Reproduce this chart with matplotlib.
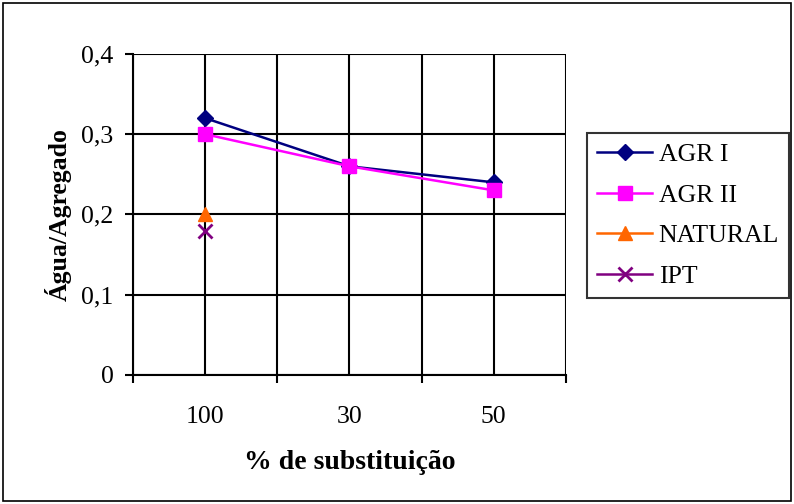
import matplotlib
matplotlib.use("Agg")
import matplotlib.pyplot as plt
from matplotlib.patches import Rectangle

categories = ["100", "30", "50"]
agr1 = [0.32, 0.26, 0.24]
agr2 = [0.30, 0.26, 0.23]
natural = [0.20, None, None]
ipt = [0.18, None, None]
yticks = [0, 0.1, 0.2, 0.3, 0.4]
ytick_labels = ["0", "0,1", "0,2", "0,3", "0,4"]

plt.rcParams['font.family'] = ['Liberation Serif', 'DejaVu Serif']
FS = 18.5

fig = plt.figure(figsize=(7.94, 5.04), dpi=100)
fig.patches.append(Rectangle((0.004, 0.006), 0.992, 0.988, transform=fig.transFigure,
                             fill=False, edgecolor='black', linewidth=1.2))
ax = fig.add_axes([0.1675, 0.256, 0.5453, 0.637])

xs = [i + 0.5 for i in range(len(categories))]

def pts(vals):
    x = [xs[i] for i, v in enumerate(vals) if v is not None]
    y = [v for v in vals if v is not None]
    return x, y

ax.plot(*pts(agr1), color='#000080', marker='D', markersize=8, linewidth=1.8, label='AGR I', zorder=4)
ax.plot(*pts(agr2), color='#FF00FF', marker='s', markersize=10.5, linewidth=1.8, label='AGR II', zorder=5)
ax.plot(*pts(natural), color='#FF6600', marker='^', markersize=10.5, linewidth=1.8, label='NATURAL', zorder=4)
ax.plot(*pts(ipt), color='#800080', marker='x', markersize=9.5, markeredgewidth=2, linewidth=1.8, label='IPT', zorder=4)

ax.set_xlim(0, len(categories))
ax.set_ylim(0, 0.4)
ax.set_yticks(yticks)
ax.set_yticklabels(ytick_labels, fontsize=FS)
ax.set_xticks(range(len(categories) + 1))
ax.set_xticklabels([])
ax.set_xticks(xs, minor=True)
ax.set_xticklabels(categories, minor=True, fontsize=FS)
ax.tick_params(axis='x', which='minor', length=0, pad=22)
ax.tick_params(axis='x', which='major', length=6, width=1.5, direction='out')
ax.tick_params(axis='y', length=6, width=1.5, direction='out', pad=8)

for x in [i * 0.5 for i in range(2 * len(categories) + 1)]:
    ax.axvline(x, color='black', linewidth=1.5, zorder=1)
for y in yticks:
    ax.axhline(y, color='black', linewidth=1.5, zorder=1)
for s in ax.spines.values():
    s.set_linewidth(1.5)
ax.spines['right'].set_visible(False)
ax.spines['top'].set_visible(False)

ax.set_ylabel('Água/Agregado', fontsize=FS, fontweight='bold', labelpad=7)
ax.set_xlabel('% de substituição', fontsize=20, fontweight='bold', labelpad=16)

leg = ax.legend(loc='upper left', bbox_to_anchor=(0.739, 0.736), bbox_transform=fig.transFigure,
                fontsize=FS, frameon=True, fancybox=False, edgecolor='black',
                handlelength=2.15, borderpad=0.4, labelspacing=0.68, handletextpad=0.25, borderaxespad=0)
leg.get_frame().set_linewidth(1.5)

fig.savefig('out.png', dpi=100)
